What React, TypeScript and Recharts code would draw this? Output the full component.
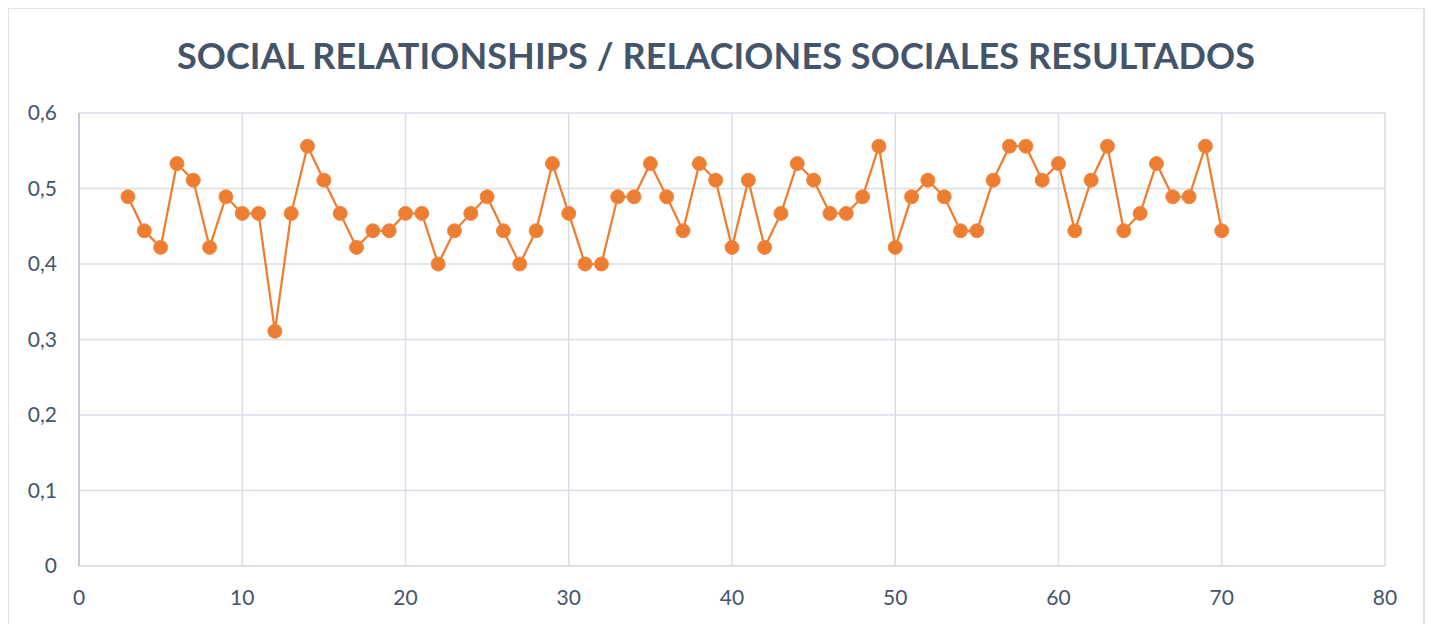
import { LineChart, Line, XAxis, YAxis, CartesianGrid } from "recharts";

const title = "SOCIAL RELATIONSHIPS / RELACIONES SOCIALES RESULTADOS";

const xValues = [
    3, 4, 5, 6, 7, 8, 9, 10, 11, 12, 13, 14, 15, 16, 17, 18, 19, 20, 21, 22, 23, 24, 25, 26, 27, 28, 29, 30, 31, 32, 33, 34, 35, 36,
    37, 38, 39, 40, 41, 42, 43, 44, 45, 46, 47, 48, 49, 50, 51, 52, 53, 54, 55, 56, 57, 58, 59, 60, 61, 62, 63, 64, 65, 66, 67, 68,
    69, 70,
];

const yValues = [
    0.489, 0.444, 0.422, 0.533, 0.511, 0.422, 0.489, 0.467, 0.467, 0.311, 0.467, 0.556, 0.511, 0.467, 0.422, 0.444, 0.444, 0.467,
    0.467, 0.4, 0.444, 0.467, 0.489, 0.444, 0.4, 0.444, 0.533, 0.467, 0.4, 0.4, 0.489, 0.489, 0.533, 0.489, 0.444, 0.533, 0.511,
    0.422, 0.511, 0.422, 0.467, 0.533, 0.511, 0.467, 0.467, 0.489, 0.556, 0.422, 0.489, 0.511, 0.489, 0.444, 0.444, 0.511, 0.556,
    0.556, 0.511, 0.533, 0.444, 0.511, 0.556, 0.444, 0.467, 0.533, 0.489, 0.489, 0.556, 0.444,
];

const xTicks = [0, 10, 20, 30, 40, 50, 60, 70, 80];
const yTicks = [0, 0.1, 0.2, 0.3, 0.4, 0.5, 0.6];

const data = xValues.map((x, i) => ({ x, y: yValues[i] }));

const FONT = "Lato, 'Open Sans', sans-serif";
const TEXT = "#44546a";
const GRID = "#d9dee6";

export default function App() {
    return (
        <div
            style={{
                position: "relative",
                width: 1418,
                height: 640,
                margin: "-1px 0 0 -1px",
                border: "2px solid #dfe3e8",
                boxSizing: "border-box",
                background: "#fff",
                fontFamily: FONT,
            }}
        >
            <div
                style={{
                    position: "absolute",
                    top: 24,
                    left: 0,
                    width: "100%",
                    textAlign: "center",
                    fontSize: 36,
                    fontWeight: 700,
                    color: TEXT,
                    lineHeight: "44px",
                    letterSpacing: 0.1,
                }}
            >
                {title}
            </div>
            <div style={{ position: "absolute", left: -1, top: -1 }}>
                <LineChart width={1418} height={640} data={data} margin={{ top: 105, right: 41, left: 0, bottom: 50 }}>
                    <CartesianGrid stroke={GRID} strokeWidth={1.5} />
                    <XAxis
                        dataKey="x"
                        type="number"
                        domain={[0, 80]}
                        ticks={xTicks}
                        height={32}
                        tickLine={false}
                        axisLine={{ stroke: GRID, strokeWidth: 1.5 }}
                        tick={{ fill: TEXT, fontSize: 21, fontFamily: FONT, dy: 16 }}
                    />
                    <YAxis
                        type="number"
                        domain={[0, 0.6]}
                        ticks={yTicks}
                        width={71}
                        tickLine={false}
                        axisLine={{ stroke: "#b8c2d0", strokeWidth: 1.5 }}
                        tickFormatter={(v: number) => String(Math.round(v * 10) / 10).replace(".", ",")}
                        tick={{ fill: TEXT, fontSize: 21, fontFamily: FONT, dx: -14 }}
                    />
                    <Line
                        dataKey="y"
                        type="linear"
                        stroke="#ed7d31"
                        strokeWidth={2.25}
                        dot={{ r: 7, fill: "#ed7d31", stroke: "#f08a45", strokeWidth: 1 }}
                        activeDot={false}
                        isAnimationActive={false}
                    />
                </LineChart>
            </div>
        </div>
    );
}
